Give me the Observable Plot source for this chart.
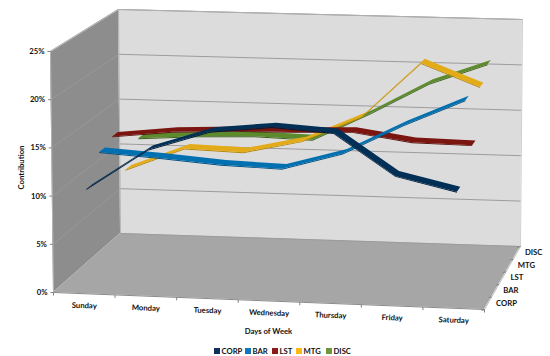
<!DOCTYPE html>
<html><head><meta charset="utf-8">
<script src="https://cdn.jsdelivr.net/npm/d3@7"></script>
<script src="https://cdn.jsdelivr.net/npm/@observablehq/plot@0.6"></script>
<style>
html,body{margin:0;padding:0;background:#fff;width:550px;height:356px;overflow:hidden}
svg{display:block}
#legend{position:relative;height:12px;font:bold 7.7px Lato,sans-serif;color:#111}
#legend span{position:absolute;top:2px;display:flex;align-items:center;gap:1.5px;line-height:10px}
#legend i{display:block;width:6px;height:6px}
</style></head><body>
<div id="chart"></div>
<div id="legend"></div>
<script>
const days = ["Sunday","Monday","Tuesday","Wednesday","Thursday","Friday","Saturday"];
const seriesNames = ["CORP","BAR","LST","MTG","DISC"];
const corp = [10.5,14.8,16.9,17.6,17.2,13.0,11.6];
const bar  = [13.3,12.9,12.4,12.2,14.0,17.2,20.0];
const lst  = [13.9,14.6,14.9,15.0,15.2,14.3,14.2];
const mtg  = [9.2,11.7,11.5,12.9,15.7,21.7,19.3];
const disc = [11.5,11.9,12.1,11.9,15.0,18.4,20.7];
const valueTicks = [0,5,10,15,20,25];
const colors = ["#012f55","#0070b0","#7a1510","#e3ab17","#5c8a2c"];
const sideColors = ["#001c36","#004f80","#55100c","#b5860c","#3d5f1c"];
const legendColors = ["#10315f","#1175c0","#8b1a1a","#fdb913","#6f963a"];
const legendX = [214,245,272,296,326];
const seriesValues = [corp,bar,lst,mtg,disc];

// 3D box corners (floor / top, front / back, left / right) of the chart frame
const corners = {
  f0l:[53,292], f0r:[484,309], b0l:[120,233], b0r:[520,246],
  f1l:[50,51],  f1r:[488,65],  b1l:[118,9],   b1r:[522,19]
};
const lerp=(a,b,t)=>[a[0]+(b[0]-a[0])*t,a[1]+(b[1]-a[1])*t];
function proj(u,v,w){
  const f0=lerp(corners.f0l,corners.f0r,u), b0=lerp(corners.b0l,corners.b0r,u);
  const f1=lerp(corners.f1l,corners.f1r,u), b1=lerp(corners.b1l,corners.b1r,u);
  return lerp(lerp(f0,b0,v),lerp(f1,b1,v),w);
}
const uScale = Plot.scale({x:{type:"point",domain:days,range:[0,1],padding:0.5}});
const vScale = Plot.scale({x:{type:"point",domain:seriesNames,range:[0,1],padding:0.5}});
const wScale = Plot.scale({y:{type:"linear",domain:[0,25],range:[0,1]}});
const dv = 0.045;

const table = seriesNames.flatMap((s,j)=>days.map((day,i)=>({s,j,day,i,value:seriesValues[j][i]})));
const rows = seriesNames.map(s=>table.filter(d=>d.s===s));
const near = (d,off=0)=>proj(uScale.apply(d.day),vScale.apply(d.s)-dv,wScale.apply(d.value-off));
const far  = (d)=>proj(uScale.apply(d.day),vScale.apply(d.s)+dv,wScale.apply(d.value));

const frame = [0,1];
const area = (fa,fb,fill)=>Plot.area(frame,{x1:t=>fa(t)[0],y1:t=>fa(t)[1],x2:t=>fb(t)[0],y2:t=>fb(t)[1],fill});

const ribbons = [];
for (let j=seriesNames.length-1;j>=0;j--){
  const r=rows[j];
  ribbons.push(Plot.area(r,{x1:d=>near(d)[0],y1:d=>near(d)[1],x2:d=>near(d,0.1)[0],y2:d=>near(d,0.1)[1],fill:sideColors[j]}));
  ribbons.push(Plot.area(r,{x1:d=>near(d)[0],y1:d=>near(d)[1],x2:d=>far(d)[0],y2:d=>far(d)[1],fill:colors[j]}));
}

const link = (data,a,b,stroke,strokeWidth=1)=>Plot.link(data,{x1:d=>a(d)[0],y1:d=>a(d)[1],x2:d=>b(d)[0],y2:d=>b(d)[1],stroke,strokeWidth});
const uTicks = d3.range(days.length+1).map(i=>i/days.length);
const vTicks = d3.range(seriesNames.length+1).map(i=>i/seriesNames.length);
const W = v=>wScale.apply(v);
const fontFamily = "Lato, sans-serif";
const fontSize = 7.7;
const offset = (p,dx,dy)=>[p[0]+dx,p[1]+dy];

const chart = Plot.plot({
  width:550,height:344,margin:0,
  x:{domain:[0,550],range:[0,550],axis:null},
  y:{domain:[0,344],range:[0,344],axis:null},
  marks:[
    area(t=>proj(0,1,t),t=>proj(1,1,t),"#dcdcdc"),
    area(t=>proj(0,0,t),t=>proj(0,1,t),"#8d8d8d"),
    area(t=>proj(t,0,0),t=>proj(t,1,0),"#a6a6a6"),
    link(valueTicks,d=>proj(0,1,W(d)),d=>proj(1,1,W(d)),"#9c9c9c",1),
    link(valueTicks.slice(1),d=>proj(0,0,W(d)),d=>proj(0,1,W(d)),"#9a9a9a",0.8),
    link([0,1],d=>proj(0,d,0),d=>proj(0,d,1),"#b5b5b5",1),
    link([1],d=>proj(1,1,0),d=>proj(1,1,1),"#d0d0d0",1),
    link([1],d=>proj(0,1,1),d=>proj(1,1,1),"#b0b0b0",1),
    link([0],d=>proj(0,0,1),d=>proj(0,1,1),"#c0c0c0",1),
    link([0],d=>proj(0,0,0),d=>proj(1,0,0),"#8a8a8a",1),
    link([1],d=>proj(1,0,0),d=>proj(1,1,0),"#bcbcbc",1),
    ...ribbons,
    // ticks
    link(uTicks,d=>proj(d,0,0),d=>offset(proj(d,0,0),0,3),"#808080",1),
    link(valueTicks,d=>proj(0,0,W(d)),d=>offset(proj(0,0,W(d)),-3,0),"#808080",1),
    link(vTicks,d=>proj(1,d,0),d=>offset(proj(1,d,0),-3,1),"#808080",1),
    // value labels
    Plot.text(valueTicks,{x:d=>proj(0,0,W(d))[0]-6,y:d=>proj(0,0,W(d))[1],text:d=>d+"%",textAnchor:"end",fontSize,fontWeight:700,fontFamily,fill:"#111"}),
    // day labels
    Plot.text(days,{x:d=>proj(uScale.apply(d),0,0)[0],y:d=>proj(uScale.apply(d),0,0)[1]+12,text:d=>d,rotate:2,fontSize,fontWeight:700,fontFamily,fill:"#111"}),
    // series labels
    Plot.text(seriesNames,{x:d=>proj(1,vScale.apply(d),0)[0]+8,y:d=>proj(1,vScale.apply(d),0)[1],text:d=>d,textAnchor:"start",fontSize,fontWeight:700,fontFamily,fill:"#111"}),
    Plot.text(["Days of Week"],{x:()=>268,y:()=>331,text:d=>d,fontSize,fontWeight:700,fontFamily,fill:"#111"}),
    Plot.text(["Contribution"],{x:()=>21,y:()=>167,text:d=>d,rotate:-90,fontSize,fontWeight:700,fontFamily,fill:"#111"})
  ]
});
document.getElementById("chart").append(chart);
const lg=document.getElementById("legend");
seriesNames.forEach((s,j)=>{
  const e=document.createElement("span");
  e.style.left=legendX[j]+"px";
  const sw=document.createElement("i");sw.style.background=legendColors[j];
  e.append(sw,document.createTextNode(s));
  lg.append(e);
});
</script>
</body></html>
